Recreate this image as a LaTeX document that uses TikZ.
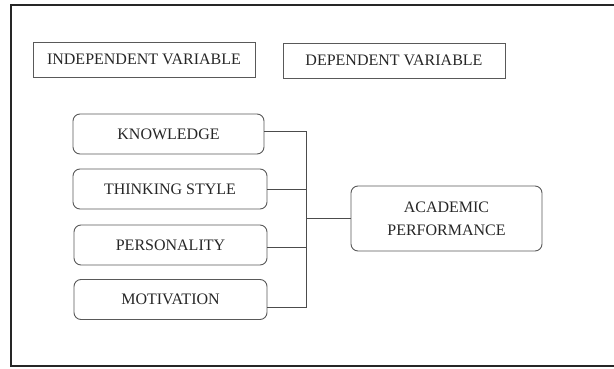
\documentclass[tikz,border=0pt]{standalone}
\usepackage{fontspec}
\setmainfont{Liberation Serif}
\begin{document}
\begin{tikzpicture}[x=1pt,y=-1pt,
  label/.style={draw=black!65,line width=0.9pt,inner sep=0pt,align=center,
    font=\fontsize{16}{23}\selectfont,text=black!85},
  headbox/.style={label,minimum width=#1,minimum height=35},
  varbox/.style={label,rounded corners=7,minimum width=#1,minimum height=40},
  link/.style={draw=black!70,line width=1pt}]
\useasboundingbox (0,0) rectangle (614,369);
% outer frame
\draw[line width=1.6pt,black!85] (11,5) rectangle (620,366);
% headings
\node[headbox=222] (iv) at (144,59.5) {INDEPENDENT VARIABLE};
\node[headbox=222] (dv) at (394,60.5) {DEPENDENT VARIABLE};
% independent variables
\node[varbox=191] (kn) at (168.5,134) {KNOWLEDGE};
\node[varbox=194] (ts) at (170,189) {THINKING STYLE};
\node[varbox=193] (pe) at (170.5,245) {PERSONALITY};
\node[varbox=193] (mo) at (170.5,299.5) {MOTIVATION};
% dependent variable
\node[varbox=191,minimum height=65] (ap) at (446.5,218.5) {ACADEMIC\\PERFORMANCE};
% connectors
\coordinate (top) at (306,132);
\coordinate (bot) at (306,307);
\coordinate (mid) at (306,218.5);
\draw[link] ([yshift=2]kn.east) -- (top) -- (bot) -- ([yshift=-7.5]mo.east);
\draw[link] (ts.east) -- (ts.east -| top);
\draw[link] ([yshift=-2]pe.east) -- ([yshift=-2]pe.east -| top);
\draw[link] (mid) -- (ap.west);
\end{tikzpicture}
\end{document}
